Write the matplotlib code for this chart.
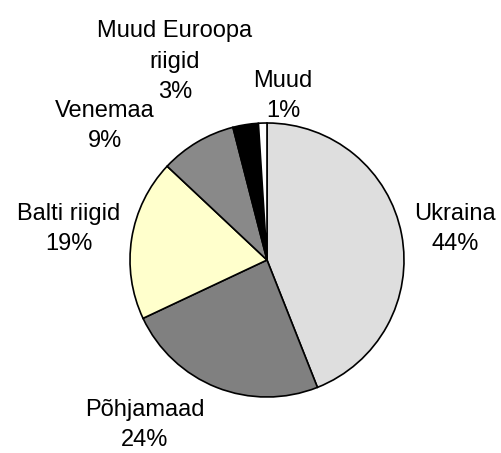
import matplotlib
matplotlib.use('Agg')
import matplotlib.pyplot as plt

plt.rcParams['font.family'] = ['Liberation Sans', 'DejaVu Sans']

# data
regions = ['Ukraina', 'Põhjamaad', 'Balti riigid', 'Venemaa', 'Muud Euroopa\nriigid', 'Muud']
shares = [44, 24, 19, 9, 3, 1]
colors = ['#dedede', '#808080', '#ffffcc', '#898989', '#000000', '#ffffff']

# label block centres in pixel coords (x, y from top)
label_pos = [(455, 229), (145, 425), (69, 229), (105, 126), (175, 62), (283, 96)]

W, H = 501, 453
fig = plt.figure(figsize=(W / 100, H / 100), dpi=100)
ax = fig.add_axes([0, 0, 1, 1])

wedges, _ = ax.pie(shares, colors=colors, startangle=90, counterclock=False,
                   center=(267, H - 260), radius=137, frame=True,
                   wedgeprops=dict(edgecolor='black', linewidth=1.2))
ax.set_xlim(0, W)
ax.set_ylim(0, H)
ax.set_aspect('equal')
ax.axis('off')

for name, val, (px, py) in zip(regions, shares, label_pos):
    ax.text(px, H - py, '%s\n%d%%' % (name, val), ha='center', va='center',
            fontsize=17, linespacing=1.5, color='black')

fig.savefig('out.png', dpi=100)
